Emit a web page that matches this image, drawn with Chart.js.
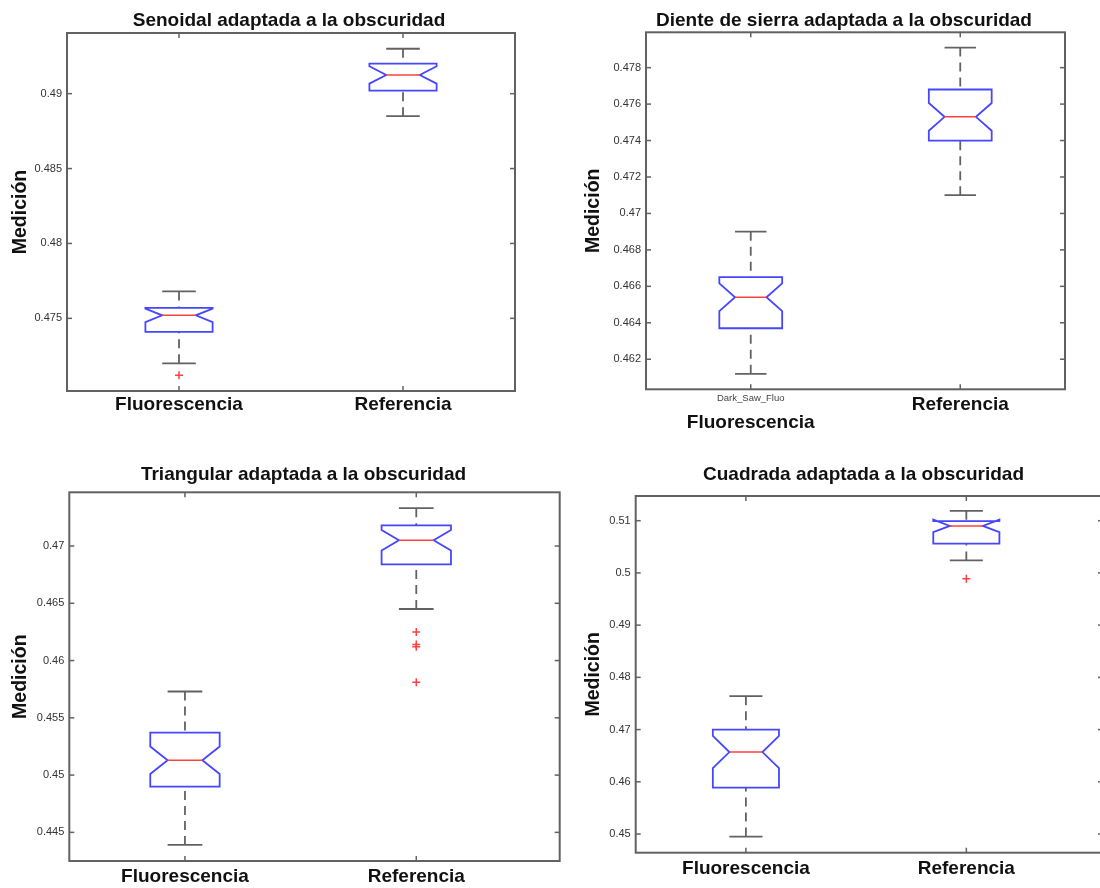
<!DOCTYPE html>
<html>
<head>
<meta charset="utf-8">
<script src="https://cdn.jsdelivr.net/npm/chart.js@4.4.1/dist/chart.umd.min.js"></script>
<style>
  html, body { margin: 0; padding: 0; background: #fff; width: 1100px; height: 888px; overflow: hidden; }
  .panel { position: absolute; }
</style>
</head>
<body>
<div class="panel" style="left:0;top:0;width:578px;height:440px"><canvas id="seno"></canvas></div>
<div class="panel" style="left:550px;top:0;width:588px;height:440px"><canvas id="sierra"></canvas></div>
<div class="panel" style="left:0;top:450px;width:607px;height:438px"><canvas id="tri"></canvas></div>
<div class="panel" style="left:550px;top:450px;width:627px;height:438px"><canvas id="cuad"></canvas></div>
<script>
const categories = ['Fluorescencia', 'Referencia'];

// each box: [whisker low, Q1, median, Q3, whisker high]
const senoBoxes = [[0.4720, 0.4741, 0.4752, 0.4757, 0.4768], [0.4885, 0.4902, 0.49125, 0.4920, 0.4930]];
const senoNotch = [0.00045, 0.00058];
const senoOutliers = [[0.4712], []];
const senoTicks = [0.475, 0.48, 0.485, 0.49];

const sierraBoxes = [[0.4612, 0.4637, 0.4654, 0.4665, 0.4690], [0.4710, 0.4740, 0.4753, 0.4768, 0.4791]];
const sierraNotch = [0.00076, 0.00076];
const sierraOutliers = [[], []];
const sierraTicks = [0.462, 0.464, 0.466, 0.468, 0.47, 0.472, 0.474, 0.476, 0.478];

const triBoxes = [[0.4439, 0.4490, 0.4513, 0.4537, 0.4573], [0.4645, 0.4684, 0.4705, 0.4718, 0.4733]];
const triNotch = [0.0012, 0.0009];
const triOutliers = [[], [0.4625, 0.4614, 0.4612, 0.4581]];
const triTicks = [0.445, 0.45, 0.455, 0.46, 0.465, 0.47];

const cuadBoxes = [[0.4495, 0.4589, 0.4657, 0.4700, 0.4764], [0.5024, 0.5056, 0.5090, 0.5099, 0.5119]];
const cuadNotch = [0.0031, 0.0012];
const cuadOutliers = [[], [0.4989]];
const cuadTicks = [0.45, 0.46, 0.47, 0.48, 0.49, 0.5, 0.51];

const FONT = "'Liberation Sans', Arial, Helvetica, sans-serif";
const BLUE = '#4646ff', RED = '#ff4040', GRAY = '#626262';
const BOX_W = 0.3;

Chart.defaults.font.family = FONT;

function line(ctx, x1, y1, x2, y2) {
  ctx.beginPath(); ctx.moveTo(x1, y1); ctx.lineTo(x2, y2); ctx.stroke();
}

const boxPlugin = {
  id: 'boxes',
  afterDatasetsDraw(chart, args, opts) {
    const { ctx, chartArea } = chart;
    const xs = chart.scales.x, ys = chart.scales.y;
    const py = v => ys.getPixelForValue(v);
    ctx.save();
    ctx.beginPath();
    ctx.rect(chartArea.left, chartArea.top, chartArea.width, chartArea.height);
    ctx.clip();
    opts.boxes.forEach((b, i) => {
      const [lo, q1, med, q3, hi] = b;
      const cx = xs.getPixelForValue(i);
      const hw = xs.getPixelForValue(i + BOX_W / 2) - cx;
      // whiskers
      ctx.strokeStyle = GRAY; ctx.lineWidth = 1.8;
      ctx.setLineDash([9, 6]);
      line(ctx, cx, py(hi), cx, py(q3));
      line(ctx, cx, py(lo), cx, py(q1));
      ctx.setLineDash([]);
      line(ctx, cx - hw / 2, py(hi), cx + hw / 2, py(hi));
      line(ctx, cx - hw / 2, py(lo), cx + hw / 2, py(lo));
      // notched box
      const nLo = med - opts.notch[i], nHi = med + opts.notch[i];
      ctx.strokeStyle = BLUE; ctx.lineWidth = 1.8;
      ctx.beginPath();
      ctx.moveTo(cx - hw, py(q1));
      ctx.lineTo(cx - hw, py(nLo));
      ctx.lineTo(cx - hw / 2, py(med));
      ctx.lineTo(cx - hw, py(nHi));
      ctx.lineTo(cx - hw, py(q3));
      ctx.lineTo(cx + hw, py(q3));
      ctx.lineTo(cx + hw, py(nHi));
      ctx.lineTo(cx + hw / 2, py(med));
      ctx.lineTo(cx + hw, py(nLo));
      ctx.lineTo(cx + hw, py(q1));
      ctx.closePath();
      ctx.stroke();
      ctx.strokeStyle = RED; ctx.lineWidth = 1.5;
      line(ctx, cx - hw / 2, py(med), cx + hw / 2, py(med));
    });
    ctx.restore();
  },
  afterDraw(chart, args, opts) {
    const { ctx, chartArea: a } = chart;
    const xs = chart.scales.x, ys = chart.scales.y;
    ctx.save();
    ctx.strokeStyle = GRAY; ctx.lineWidth = 2;
    ctx.strokeRect(a.left, a.top, a.right - a.left, a.bottom - a.top);
    ctx.lineWidth = 1.5;
    ys.ticks.forEach(t => {
      const y = ys.getPixelForValue(t.value);
      line(ctx, a.left, y, a.left + 5, y);
      line(ctx, a.right - 5, y, a.right, y);
    });
    xs.ticks.forEach(t => {
      const x = xs.getPixelForValue(t.value);
      line(ctx, x, a.top, x, a.top + 5);
      line(ctx, x, a.bottom - 5, x, a.bottom);
    });
    if (opts.subLabel) {
      ctx.fillStyle = '#444';
      ctx.font = '9.5px ' + FONT;
      ctx.textAlign = 'center';
      ctx.textBaseline = 'middle';
      ctx.fillText(opts.subLabel, xs.getPixelForValue(0), a.bottom + 9);
    }
    ctx.restore();
  }
};

function makeChart(id, title, boxes, notch, outliers, ticks, p) {
  const outlierPts = [];
  outliers.forEach((arr, i) => arr.forEach(v => outlierPts.push({ x: i, y: v })));
  new Chart(document.getElementById(id), {
    type: 'scatter',
    data: {
      datasets: [{
        data: outlierPts,
        pointStyle: 'cross',
        radius: 4,
        borderColor: RED,
        borderWidth: 1.5,
        backgroundColor: RED
      }]
    },
    plugins: [boxPlugin],
    options: {
      responsive: true,
      maintainAspectRatio: false,
      animation: false,
      layout: { padding: 0 },
      plugins: {
        legend: { display: false },
        tooltip: { enabled: false },
        title: {
          display: true,
          text: title,
          color: '#111',
          font: { size: 19, weight: 'bold' },
          padding: { top: p.titleTop, bottom: p.titleBottom }
        },
        boxes: { boxes: boxes, notch: notch, subLabel: p.subLabel }
      },
      scales: {
        x: {
          type: 'linear',
          min: -0.5,
          max: p.xMax,
          grid: { display: false, drawTicks: false },
          border: { display: false },
          afterBuildTicks: s => { s.ticks = categories.map((c, i) => ({ value: i })); },
          afterFit: s => { s.height = p.xHeight; },
          ticks: {
            color: '#111',
            padding: p.xPad,
            maxRotation: 0,
            autoSkip: false,
            font: { size: 19, weight: 'bold', lineHeight: p.xLine || 1.2 },
            callback: v => (p.subLabel && v === 0) ? ['', categories[v]] : categories[v]
          }
        },
        y: {
          min: p.yMin,
          max: p.yMax,
          grid: { display: false, drawTicks: false },
          border: { display: false },
          afterBuildTicks: s => { s.ticks = ticks.map(v => ({ value: v })); },
          afterFit: s => { s.width = p.yWidth; },
          ticks: {
            color: '#333',
            padding: 5,
            font: { size: 11 },
            callback: v => String(v)
          },
          title: {
            display: true,
            text: 'Medición',
            color: '#111',
            font: { size: 19.5, weight: 'bold' },
            padding: { top: p.yTitlePad, bottom: 0 }
          }
        },
        yr: {
          position: 'right',
          grid: { display: false },
          border: { display: false },
          ticks: { display: false },
          afterFit: s => { s.width = p.rightWidth; }
        }
      }
    }
  });
}

makeChart('seno', 'Senoidal adaptada a la obscuridad', senoBoxes, senoNotch, senoOutliers, senoTicks,
  { yMin: 0.47015, yMax: 0.49405, xMax: 1.5, yWidth: 67, rightWidth: 63, xHeight: 49,
    titleTop: 9.2, titleBottom: 1.0, xPad: 2.6, yTitlePad: 9 });

makeChart('sierra', 'Diente de sierra adaptada a la obscuridad', sierraBoxes, sierraNotch, sierraOutliers, sierraTicks,
  { yMin: 0.46035, yMax: 0.47994, xMax: 1.5, yWidth: 96, rightWidth: 73, xHeight: 50.7,
    titleTop: 9.5, titleBottom: 0, xPad: 6.7, xLine: 0.95, yTitlePad: 32, subLabel: 'Dark_Saw_Fluo' });

makeChart('tri', 'Triangular adaptada a la obscuridad', triBoxes, triNotch, triOutliers, triTicks,
  { yMin: 0.4425, yMax: 0.47469, xMax: 1.62, yWidth: 69.3, rightWidth: 47.3, xHeight: 27,
    titleTop: 13.6, titleBottom: 5.9, xPad: 4.3, yTitlePad: 9 });

makeChart('cuad', 'Cuadrada adaptada a la obscuridad', cuadBoxes, cuadNotch, cuadOutliers, cuadTicks,
  { yMin: 0.44642, yMax: 0.51473, xMax: 1.62, yWidth: 85.7, rightWidth: 74, xHeight: 35.3,
    titleTop: 13.6, titleBottom: 9.6, xPad: 4.2, yTitlePad: 32 });
</script>
</body>
</html>
